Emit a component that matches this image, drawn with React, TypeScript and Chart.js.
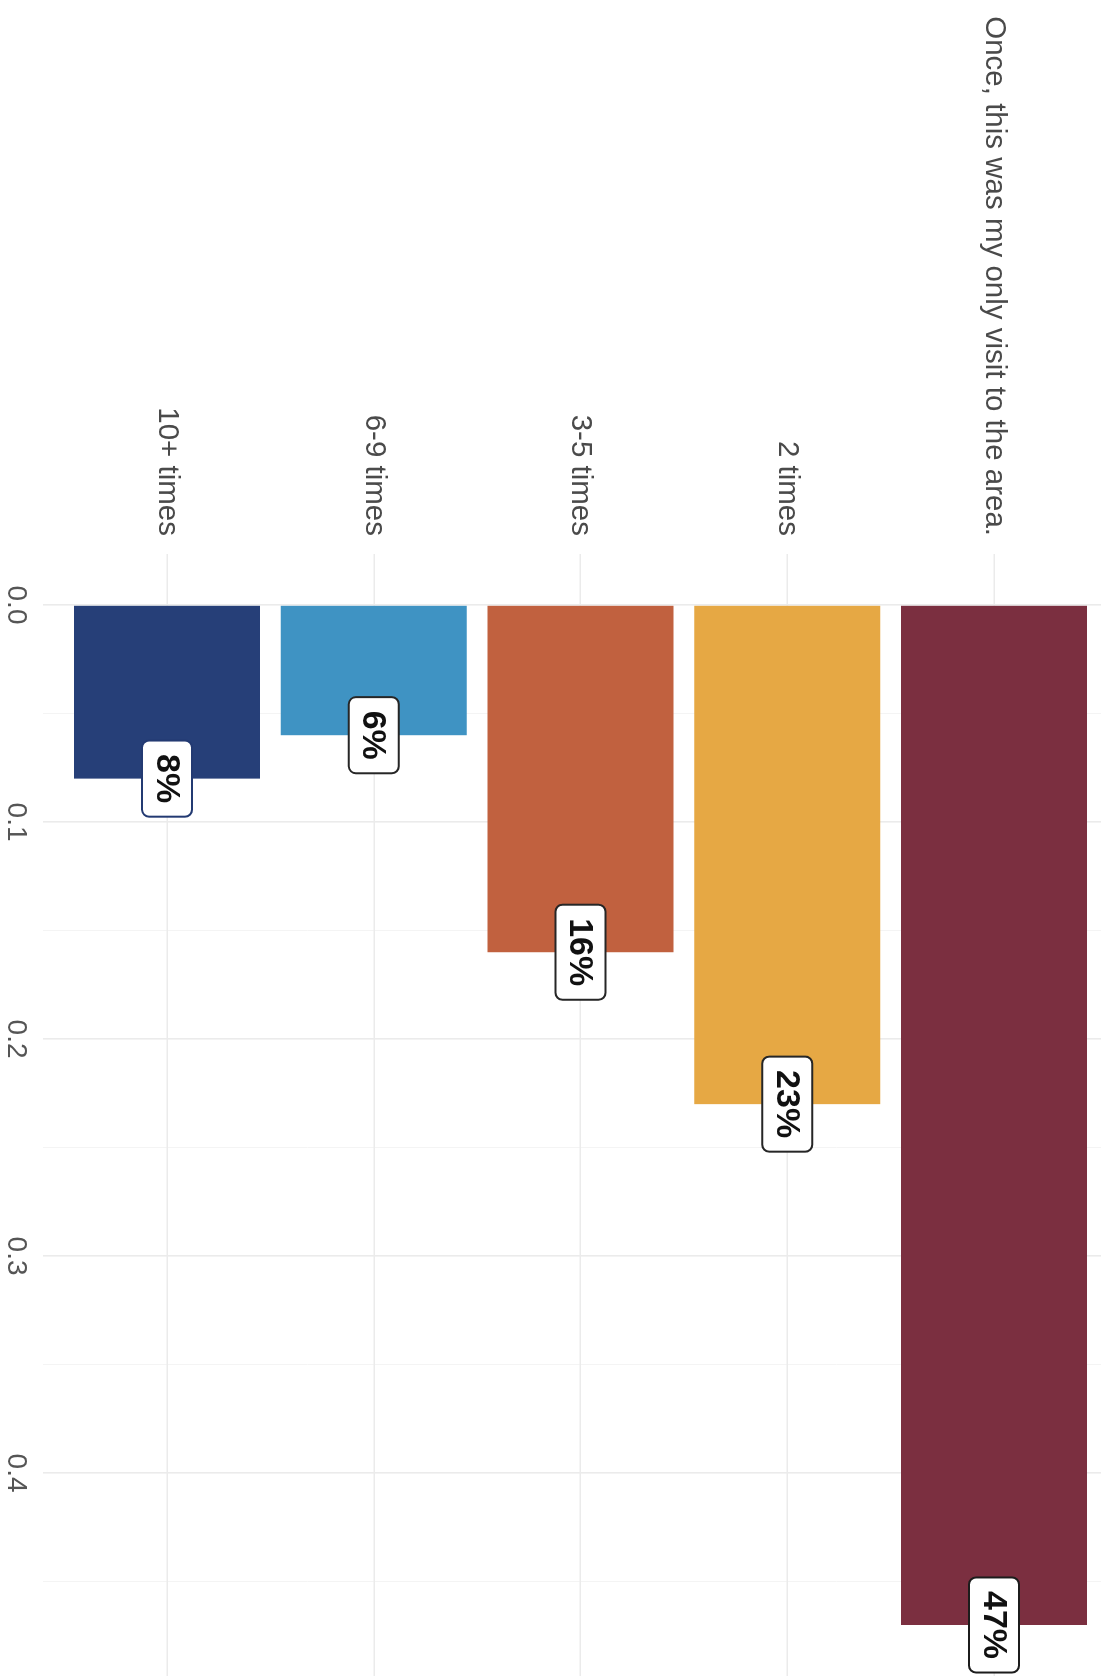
import React, { useEffect, useRef } from "react";
import { Chart, registerables } from "chart.js";

Chart.register(...registerables);

// Data (chart is drawn as a horizontal bar chart and the canvas is turned 90° clockwise)
const CATEGORIES = [
  "Once, this was my only visit to the area.",
  "2 times",
  "3-5 times",
  "6-9 times",
  "10+ times",
];
const SHARES = [0.47, 0.23, 0.16, 0.06, 0.08];
const BAR_COLORS = ["#7b2f40", "#e6a844", "#c1613f", "#3f93c3", "#263f78"];
const LABEL_BORDERS = ["#1c1c1c", "#262626", "#262626", "#262626", "#233a72"];
const MAJOR_TICKS = [0, 0.1, 0.2, 0.3, 0.4];
const MINOR_TICKS = [0.05, 0.15, 0.25, 0.35, 0.45];

const W = 1677; // unrotated canvas width
const H = 1101; // unrotated canvas height
const FONT = '"Liberation Sans", Arial, Helvetica, sans-serif';

const isMajor = (v: number) => MAJOR_TICKS.some((m) => Math.abs(m - v) < 1e-6);

const labelPlugin = {
  id: "pctLabels",
  afterDatasetsDraw(chart: any) {
    const { ctx } = chart;
    const meta = chart.getDatasetMeta(0);
    const xs = chart.scales.x;
    ctx.save();
    ctx.font = `bold 34px ${FONT}`;
    meta.data.forEach((bar: any, i: number) => {
      const v = SHARES[i];
      const txt = Math.round(v * 100) + "%";
      const cx = xs.getPixelForValue(v);
      const cy = bar.y;
      const tw = ctx.measureText(txt).width;
      const w = tw + 27;
      const h = 50;
      ctx.beginPath();
      ctx.roundRect(cx - w / 2, cy - h / 2, w, h, 7);
      ctx.fillStyle = "#ffffff";
      ctx.fill();
      ctx.lineWidth = 2;
      ctx.strokeStyle = LABEL_BORDERS[i];
      ctx.stroke();
      ctx.fillStyle = "#111111";
      ctx.textAlign = "center";
      ctx.textBaseline = "middle";
      ctx.fillText(txt, cx, cy + 1);
    });
    ctx.restore();
  },
};

export default function App() {
  const ref = useRef<HTMLCanvasElement>(null);

  useEffect(() => {
    document.body.style.margin = "0";
    const canvas = ref.current!;
    const chart = new Chart(canvas, {
      type: "bar",
      data: {
        datasets: [
          {
            data: SHARES.map((v, i) => ({ x: v, y: i })) as any,
            backgroundColor: BAR_COLORS,
            borderWidth: 0,
            barPercentage: 0.9,
            categoryPercentage: 1,
          },
        ],
      },
      options: {
        indexAxis: "y",
        responsive: false,
        animation: false,
        devicePixelRatio: 1,
        layout: { padding: { left: 0, right: 1, top: 0, bottom: 0 } },
        plugins: { legend: { display: false }, tooltip: { enabled: false } },
        scales: {
          x: {
            type: "linear",
            position: "bottom",
            min: -0.0235,
            max: 0.4935,
            offset: false,
            afterBuildTicks: (s: any) => {
              s.ticks = [...MAJOR_TICKS, ...MINOR_TICKS]
                .sort((a, b) => a - b)
                .map((value) => ({ value }));
            },
            afterFit: (s: any) => {
              s.height = 43;
              s.paddingLeft = 0;
              s.paddingRight = 0;
            },
            ticks: {
              autoSkip: false,
              maxRotation: 0,
              padding: 10,
              color: "#555555",
              font: { size: 28, family: FONT },
              callback: (v: any) => (isMajor(Number(v)) ? Number(v).toFixed(1) : ""),
            },
            grid: {
              offset: false,
              drawTicks: false,
              color: (c: any) => (c.tick && isMajor(c.tick.value) ? "#ebebeb" : "#f3f3f3"),
              lineWidth: (c: any) => (c.tick && isMajor(c.tick.value) ? 1.6 : 0.9),
            },
            border: { display: false },
          },
          y: {
            type: "linear",
            position: "left",
            reverse: true,
            offset: false,
            min: -0.5175,
            max: 4.6,
            afterBuildTicks: (s: any) => {
              s.ticks = CATEGORIES.map((_, i) => ({ value: i }));
            },
            afterFit: (s: any) => {
              s.width = 554;
              s.paddingTop = 0;
              s.paddingBottom = 0;
            },
            ticks: {
              autoSkip: false,
              padding: 18,
              color: "#4a4a4a",
              font: { size: 29.5, family: FONT },
              callback: (v: any) => CATEGORIES[Math.round(Number(v))] ?? "",
            },
            grid: {
              offset: false,
              drawTicks: false,
              color: "#ebebeb",
              lineWidth: 1.6,
            },
            border: { display: false },
          },
        },
      },
      plugins: [labelPlugin],
    });
    return () => chart.destroy();
  }, []);

  return (
    <div
      style={{
        position: "relative",
        width: H,
        height: W,
        overflow: "hidden",
        background: "#ffffff",
      }}
    >
      <canvas
        ref={ref}
        width={W}
        height={H}
        style={{
          position: "absolute",
          left: 0,
          top: 0,
          width: `${W}px`,
          height: `${H}px`,
          transform: `translateX(${H}px) rotate(90deg)`,
          transformOrigin: "0 0",
        }}
      />
    </div>
  );
}
